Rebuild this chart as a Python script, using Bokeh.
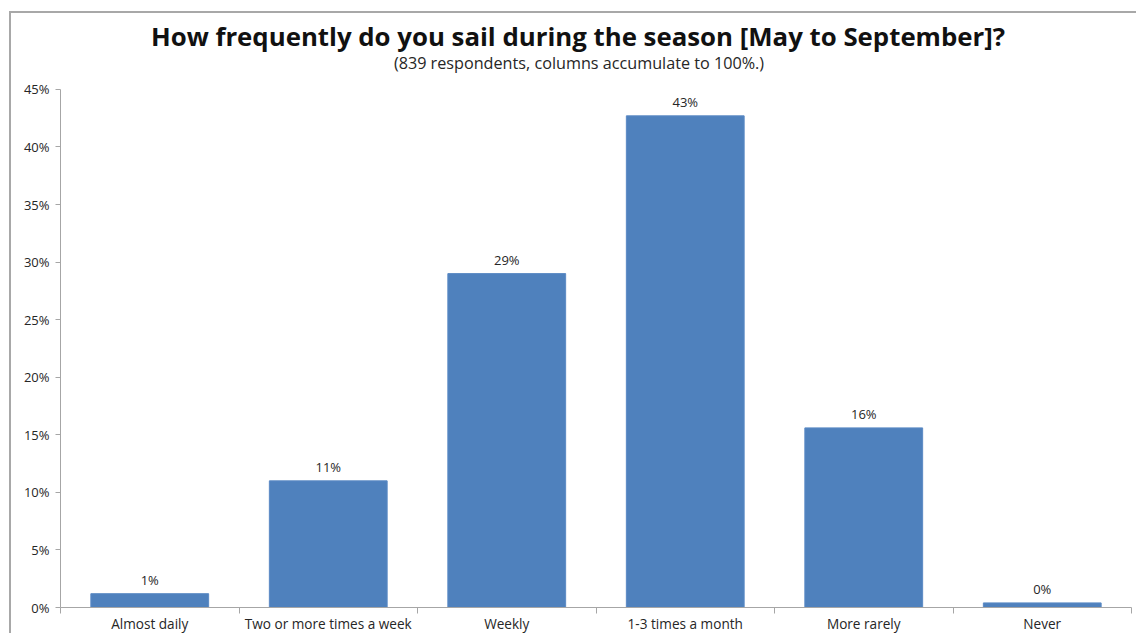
from bokeh.plotting import figure
from bokeh.models import (ColumnDataSource, FixedTicker, NumeralTickFormatter, Range1d)
from bokeh.core.properties import value
from bokeh.embed import file_html
from bokeh.resources import INLINE

categories = ["Almost daily", "Two or more times a week", "Weekly",
              "1-3 times a month", "More rarely", "Never"]
values = [0.012, 0.110, 0.290, 0.427, 0.156, 0.004]
value_labels = ["1%", "11%", "29%", "43%", "16%", "0%"]
y_ticks = [0.0, 0.05, 0.10, 0.15, 0.20, 0.25, 0.30, 0.35, 0.40, 0.45]
title_text = "How frequently do you sail during the season [May to September]?"
subtitle_text = "(839 respondents, columns accumulate to 100%.)"

Y_MAX = 0.45
# extra headroom in the frame so that the titles sit above the 45% line
Y_TOP = Y_MAX * 595 / 519

xs = [i + 0.5 for i in range(len(categories))]
src = ColumnDataSource(dict(x=xs, top=values, lab=value_labels))

FONT = "Open Sans"
AXIS_COL = "#a6a6a6"
TEXT_COL = "#262626"

p = figure(width=1127, height=622, output_backend="svg", toolbar_location=None,
           x_range=Range1d(0, len(categories)), y_range=Range1d(0, Y_TOP),
           min_border_left=49, min_border_right=7, min_border_top=0, min_border_bottom=27)
p.styles = {"margin-left": "9px", "margin-top": "11px",
            "border-left": "2px solid #a8a8a8", "border-top": "2px solid #a8a8a8"}
p.outline_line_color = None
p.background_fill_color = "white"
p.border_fill_color = "white"
p.xgrid.visible = False
p.ygrid.visible = False

p.vbar(x="x", top="top", width=0.66, bottom=0, source=src,
       fill_color="#4F81BD", line_color="#5B8AC4", line_width=1)
p.text(x="x", y="top", text="lab", source=src, text_align="center",
       text_baseline="bottom", y_offset=-5, text_font_size="13px",
       text_color=TEXT_COL, text_font=value(FONT))

# titles
mid = len(categories) / 2
p.text(x=[mid], y=[Y_TOP], text=[title_text], x_offset=-18, y_offset=22,
       text_align="center", text_baseline="middle", text_font=value(FONT),
       text_font_size="25.8px", text_font_style="bold", text_color="#111111")
p.text(x=[mid], y=[Y_TOP], text=[subtitle_text], x_offset=-17, y_offset=49,
       text_align="center", text_baseline="middle", text_font=value(FONT),
       text_font_size="16.2px", text_color=TEXT_COL)

# x axis: labels at centers, tick marks at category boundaries
xa = p.xaxis[0]
xa.ticker = FixedTicker(ticks=xs, minor_ticks=list(range(len(categories) + 1)))
xa.major_label_overrides = {x: c for x, c in zip(xs, categories)}
xa.major_tick_line_color = None
xa.major_tick_in = 0
xa.major_tick_out = 6
xa.minor_tick_line_color = AXIS_COL
xa.minor_tick_in = 0
xa.minor_tick_out = 6
xa.axis_line_color = AXIS_COL
xa.major_label_text_font = FONT
xa.major_label_text_font_size = "13.6px"
xa.major_label_text_color = TEXT_COL
xa.major_label_standoff = 0

ya = p.yaxis[0]
ya.ticker = FixedTicker(ticks=y_ticks, minor_ticks=[])
ya.bounds = (0, Y_MAX)
ya.formatter = NumeralTickFormatter(format="0%")
ya.axis_line_color = AXIS_COL
ya.major_tick_line_color = AXIS_COL
ya.major_tick_in = 0
ya.major_tick_out = 5
ya.major_label_text_font = FONT
ya.major_label_text_font_size = "13px"
ya.major_label_text_color = TEXT_COL
ya.major_label_standoff = 6

open("out.html", "w").write(file_html(p, INLINE))
